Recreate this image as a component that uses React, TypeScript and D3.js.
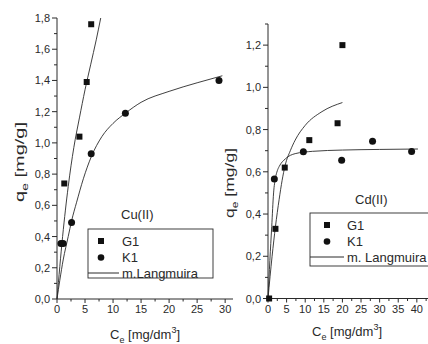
import React, { useRef, useEffect } from "react";
import * as d3 from "d3";

const W = 428;
const H = 344;

// Cu(II) panel, measured points
const cuG1C = [1.3, 4.0, 5.3, 6.1];
const cuG1Q = [0.74, 1.04, 1.39, 1.76];
const cuK1C = [0.7, 1.1, 2.6, 6.1, 12.2, 28.9];
const cuK1Q = [0.355, 0.355, 0.49, 0.93, 1.19, 1.4];
// Cu(II) Langmuir model lines
const cuG1FitC = [0, 1, 2, 3, 4, 5, 6, 7, 7.8];
const cuG1FitQ = [0, 0.4, 0.72, 0.97, 1.16, 1.34, 1.5, 1.66, 1.8];
const cuK1FitC = [0, 0.5, 1.1, 2, 2.6, 3.5, 4.7, 6.1, 8, 10, 12.2, 15, 20, 25, 29.5];
const cuK1FitQ = [0, 0.12, 0.25, 0.4, 0.5, 0.62, 0.77, 0.91, 1.04, 1.125, 1.19, 1.26, 1.33, 1.385, 1.43];

// Cd(II) panel, measured points
const cdG1C = [0.3, 2.0, 4.5, 11.1, 18.7, 20];
const cdG1Q = [0.0, 0.33, 0.62, 0.75, 0.83, 1.2];
const cdK1C = [1.7, 9.5, 19.8, 28.1, 38.6];
const cdK1Q = [0.566, 0.695, 0.655, 0.745, 0.696];
// Cd(II) Langmuir model lines
const cdG1FitC = [0, 1.1, 2, 3, 3.8, 4.6, 6, 7.3, 10, 14.5, 20];
const cdG1FitQ = [0, 0.2, 0.34, 0.47, 0.56, 0.63, 0.7, 0.75, 0.82, 0.885, 0.928];
const cdK1FitC = [0, 0.5, 1.0, 1.5, 2, 2.5, 3, 4.7, 7.3, 12, 20, 30, 40.3];
const cdK1FitQ = [0, 0.18, 0.34, 0.5, 0.57, 0.605, 0.625, 0.662, 0.686, 0.697, 0.703, 0.706, 0.708];

const yTicksCu = d3.range(0, 1.81, 0.2);
const yTicksCd = d3.range(0, 1.21, 0.2);
const xTicksCu = d3.range(0, 31, 5);
const xTicksCd = d3.range(0, 46, 5);

const FONT = "'Liberation Sans', Arial, sans-serif";
const INK = "#2a2a2a";

const zip = (xs: number[], ys: number[]) => xs.map((x, i) => [x, ys[i]] as [number, number]);

function drawPanel(svg: any, cfg: any) {
  const { x, y, xTicks, yTicks, xMinorMax, yMinorMax } = cfg;
  const g = svg.append("g");
  const [x0, x1] = x.range();
  const [y0, y1] = y.range();

  // axes lines
  g.append("line").attr("x1", x0).attr("x2", x0).attr("y1", y0).attr("y2", y1).attr("stroke", INK);
  g.append("line").attr("x1", x0).attr("x2", x1).attr("y1", y0).attr("y2", y0).attr("stroke", INK);

  // y ticks, major + minor
  yTicks.forEach((t: number) => {
    g.append("line").attr("x1", x0 - 5).attr("x2", x0).attr("y1", y(t)).attr("y2", y(t)).attr("stroke", INK);
    g.append("text")
      .attr("x", x0 - 7)
      .attr("y", y(t) + 4)
      .attr("text-anchor", "end")
      .attr("font-size", 11)
      .attr("font-family", FONT)
      .attr("fill", INK)
      .text(t.toFixed(1).replace(".", ","));
  });
  d3.range(0.1, yMinorMax + 0.001, 0.2).forEach((t: number) => {
    g.append("line").attr("x1", x0 - 3).attr("x2", x0).attr("y1", y(t)).attr("y2", y(t)).attr("stroke", INK);
  });

  // x ticks
  xTicks.forEach((t: number) => {
    g.append("line").attr("x1", x(t)).attr("x2", x(t)).attr("y1", y0).attr("y2", y0 + 4).attr("stroke", INK);
    g.append("text")
      .attr("x", x(t))
      .attr("y", y0 + 14)
      .attr("text-anchor", "middle")
      .attr("font-size", 11)
      .attr("font-family", FONT)
      .attr("fill", INK)
      .text(String(t));
  });
  d3.range(2.5, xMinorMax, 5).forEach((t: number) => {
    g.append("line").attr("x1", x(t)).attr("x2", x(t)).attr("y1", y0).attr("y2", y0 + 2.5).attr("stroke", INK);
  });

  // model lines
  const line = d3
    .line<[number, number]>()
    .x((d) => x(d[0]))
    .y((d) => y(d[1]))
    .curve(d3.curveMonotoneX);
  cfg.fits.forEach((f: [number, number][]) => {
    g.append("path").attr("d", line(f)).attr("fill", "none").attr("stroke", INK).attr("stroke-width", 0.9);
  });

  // markers
  g.selectAll(".sq")
    .data(cfg.g1)
    .enter()
    .append("rect")
    .attr("x", (d: any) => x(d[0]) - 3)
    .attr("y", (d: any) => y(d[1]) - 3)
    .attr("width", 6)
    .attr("height", 6)
    .attr("fill", "#111");
  g.selectAll(".ci")
    .data(cfg.k1)
    .enter()
    .append("circle")
    .attr("cx", (d: any) => x(d[0]))
    .attr("cy", (d: any) => y(d[1]))
    .attr("r", 3.5)
    .attr("fill", "#111");

  // axis titles
  const xt = g
    .append("text")
    .attr("x", cfg.xTitle[0])
    .attr("y", cfg.xTitle[1])
    .attr("font-size", 13)
    .attr("font-family", FONT)
    .attr("fill", INK);
  xt.append("tspan").text("C");
  xt.append("tspan").attr("font-size", 9).attr("dy", 4).text("e");
  xt.append("tspan").attr("dy", -4).text(" [mg/dm");
  xt.append("tspan").attr("font-size", 9).attr("dy", -6).text("3");
  xt.append("tspan").attr("dy", 6).text("]");

  const yt = g
    .append("text")
    .attr("transform", `translate(${cfg.yTitle[0]},${cfg.yTitle[1]}) rotate(-90)`)
    .attr("text-anchor", "middle")
    .attr("font-size", 13)
    .attr("font-family", FONT)
    .attr("fill", INK)
    .attr("textLength", cfg.yTitle[2])
    .attr("lengthAdjust", "spacingAndGlyphs");
  yt.append("tspan").text("q");
  yt.append("tspan").attr("font-size", 9).attr("dy", 4).text("e");
  yt.append("tspan").attr("dy", -4).text(" [mg/g]");

  // panel label + legend
  const L = cfg.legend;
  g.append("text")
    .attr("x", L.titleX)
    .attr("y", L.titleY)
    .attr("font-size", 13)
    .attr("font-family", FONT)
    .attr("fill", INK)
    .text(cfg.label);
  g.append("rect")
    .attr("x", L.x)
    .attr("y", L.y)
    .attr("width", L.w)
    .attr("height", L.h)
    .attr("fill", "white")
    .attr("stroke", INK)
    .attr("stroke-width", 0.9);
  const rowY = [L.y + 12, L.y + 28.5, L.y + 44];
  g.append("rect").attr("x", L.mx - 3).attr("y", rowY[0] - 3).attr("width", 6).attr("height", 6).attr("fill", "#111");
  g.append("circle").attr("cx", L.mx).attr("cy", rowY[1]).attr("r", 3.3).attr("fill", "#111");
  g.append("line").attr("x1", L.x).attr("x2", L.tx - 3).attr("y1", rowY[2]).attr("y2", rowY[2]).attr("stroke", INK);
  ["G1", "K1", cfg.modelName].forEach((s: string, i: number) => {
    g.append("text")
      .attr("x", L.tx)
      .attr("y", rowY[i] + 4.5)
      .attr("font-size", 13)
      .attr("font-family", FONT)
      .attr("fill", INK)
      .text(s);
  });
}

export default function App() {
  const svgRef = useRef<SVGSVGElement>(null);

  useEffect(() => {
    const svg = d3.select(svgRef.current);
    svg.selectAll("*").remove();

    const xCu = d3.scaleLinear().domain([0, 31.4]).range([57, 233]);
    const yCu = d3.scaleLinear().domain([0, 1.8]).range([299, 18]);
    drawPanel(svg, {
      x: xCu,
      y: yCu,
      xTicks: xTicksCu,
      yTicks: yTicksCu,
      xMinorMax: 30,
      yMinorMax: 1.8,
      fits: [zip(cuG1FitC, cuG1FitQ), zip(cuK1FitC, cuK1FitQ)],
      g1: zip(cuG1C, cuG1Q),
      k1: zip(cuK1C, cuK1Q),
      xTitle: [110, 339],
      yTitle: [24, 162, 80],
      label: "Cu(II)",
      modelName: "m.Langmuira",
      legend: { titleX: 121, titleY: 219, x: 88, y: 229, w: 125, h: 49, mx: 101, tx: 122 },
    });

    const xCd = d3.scaleLinear().domain([0, 48]).range([268, 446.6]);
    const yCd = d3.scaleLinear().domain([0, 1.3]).range([298.5, 24]);
    drawPanel(svg, {
      x: xCd,
      y: yCd,
      xTicks: xTicksCd,
      yTicks: yTicksCd,
      xMinorMax: 48,
      yMinorMax: 1.3,
      fits: [zip(cdG1FitC, cdG1FitQ), zip(cdK1FitC, cdK1FitQ)],
      g1: zip(cdG1C, cdG1Q),
      k1: zip(cdK1C, cdK1Q),
      xTitle: [312, 336],
      yTitle: [234, 183, 70],
      label: "Cd(II)",
      modelName: "m. Langmuira",
      legend: { titleX: 355, titleY: 204, x: 310, y: 213, w: 125, h: 53, mx: 327, tx: 347 },
    });
  }, []);

  return (
    <svg
      ref={svgRef}
      width={W}
      height={H}
      style={{ position: "absolute", left: 0, top: 0, background: "white" }}
    />
  );
}
